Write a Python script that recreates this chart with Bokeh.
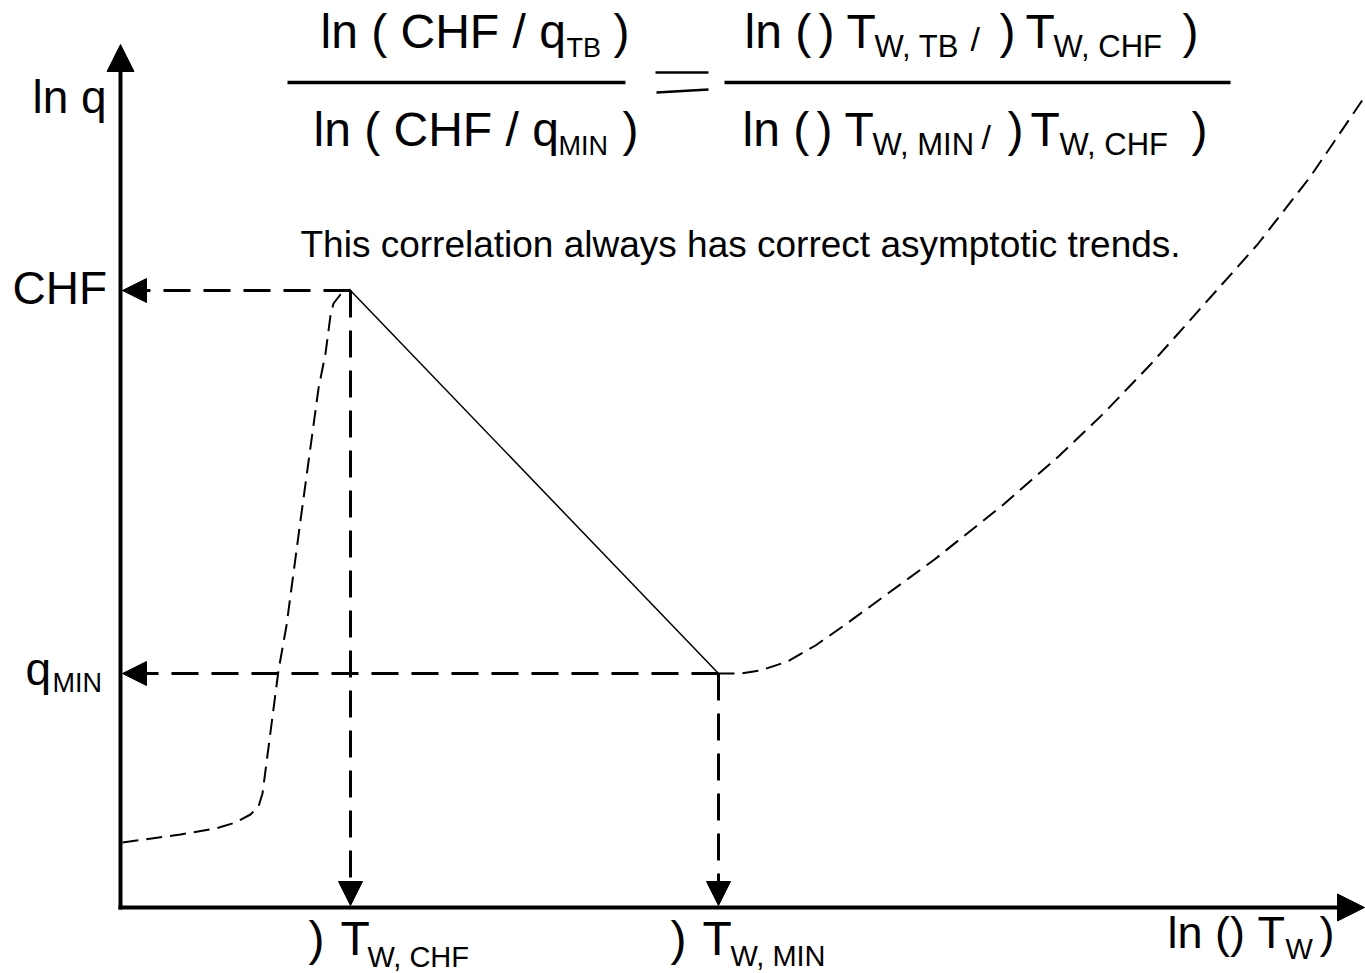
from bokeh.plotting import figure
from bokeh.models import Range1d, Arrow, NormalHead, ColumnDataSource
from bokeh.core.properties import value
from bokeh.embed import file_html
from bokeh.resources import INLINE

# ---------------------------------------------------------------------------
# Schematic boiling curve: x = ln(dT_w), y = ln(q), arbitrary units
# ---------------------------------------------------------------------------
T_W_CHF = 2.30      # wall superheat at critical heat flux
T_W_MIN = 5.98      # wall superheat at minimum film boiling point
CHF = 6.17          # critical heat flux level
Q_MIN = 2.34        # minimum film boiling heat flux level

# nucleate boiling branch (dashed, up to CHF)
nucleate_x = [0.02, 0.60, 0.95, 1.15, 1.30, 1.38, 1.42, 1.58, 1.66, 1.80,
              1.98, 2.05, 2.10, 2.13, 2.20, 2.30]
nucleate_y = [0.65, 0.73, 0.79, 0.85, 0.93, 1.01, 1.14, 2.37, 2.82, 3.87,
              5.19, 5.54, 5.92, 6.04, 6.13, 6.18]

# film boiling branch (dashed, from the minimum point onwards)
film_x = [5.98, 6.20, 6.40, 6.67, 6.95, 7.25, 7.66, 8.14, 8.83, 9.39,
          9.83, 10.30, 10.80, 11.37, 11.90, 12.43]
film_y = [2.34, 2.34, 2.37, 2.46, 2.62, 2.83, 3.13, 3.48, 4.03, 4.52,
          4.94, 5.43, 5.99, 6.63, 7.31, 8.09]

FONT = "Liberation Sans"
W, H = 1365, 973
PX = 100.0            # screen pixels per unit
X0, Y0 = 120, 907     # screen position of the axes origin
BASELINE_FIX = 0.39   # em shift so that dy addresses the alphabetic baseline


def ux(px):
    return (px - X0) / PX


def uy(py):
    return (Y0 - py) / PX


p = figure(width=W, height=H,
           x_range=Range1d(ux(0), ux(W)), y_range=Range1d(uy(H), uy(0)),
           toolbar_location=None, output_backend="svg", min_border=0)
p.xaxis.visible = False
p.yaxis.visible = False
p.xgrid.visible = False
p.ygrid.visible = False
p.outline_line_color = None
p.background_fill_color = "white"
p.border_fill_color = "white"


# --- axes drawn as arrows -------------------------------------------------
def head(size):
    return NormalHead(size=size, fill_color="black", line_color="black", line_width=1)


p.add_layout(Arrow(end=head(27), x_start=0, y_start=-0.02, x_end=0, y_end=uy(44),
                   line_color="black", line_width=4))
p.add_layout(Arrow(end=head(27), x_start=-0.02, y_start=0, x_end=ux(1364), y_end=0,
                   line_color="black", line_width=4))

# --- dashed guide arrows from CHF and the minimum point -------------------
guide = dict(line_color="black", line_width=3, line_dash="27 13")
tip = 0.02
p.add_layout(Arrow(end=head(24), x_start=T_W_CHF, y_start=CHF, x_end=tip, y_end=CHF, **guide))
p.add_layout(Arrow(end=head(24), x_start=T_W_CHF, y_start=CHF, x_end=T_W_CHF, y_end=tip, **guide))
p.add_layout(Arrow(end=head(24), x_start=T_W_MIN, y_start=Q_MIN, x_end=tip, y_end=Q_MIN, **guide))
p.add_layout(Arrow(end=head(24), x_start=T_W_MIN, y_start=Q_MIN, x_end=T_W_MIN, y_end=tip, **guide))

# --- curves -----------------------------------------------------------------
p.line([T_W_CHF, T_W_MIN], [CHF, Q_MIN], line_color="black", line_width=1.5)
p.line(nucleate_x, nucleate_y, line_color="black", line_width=2, line_dash="16 8")
p.line(film_x, film_y, line_color="black", line_width=2, line_dash="16 8")

# --- correlation formula: fraction bars and equals sign ---------------------
p.segment(x0=[ux(287), ux(724)], y0=[uy(82), uy(82)],
          x1=[ux(625), ux(1230)], y1=[uy(82), uy(82)],
          line_color="black", line_width=3.5)
p.segment(x0=[ux(655), ux(656)], y0=[uy(72), uy(92)],
          x1=[ux(708), ux(708)], y1=[uy(72), uy(89)],
          line_color="black", line_width=2.5)

# --- text runs (main text + subscripts) ------------------------------------
runs = dict(x=[], y=[], text=[], size=[], dx=[], dy=[])


def put(x, y, pieces):
    for txt, size, dx, dy in pieces:
        runs["x"].append(x)
        runs["y"].append(y)
        runs["text"].append(txt)
        runs["size"].append(f"{size}px")
        runs["dx"].append(dx)
        runs["dy"].append(dy - BASELINE_FIX * size)


left, top = ux(0), uy(0)

# formula, positioned from the top-left corner of the canvas
put(left, top, [("ln ( CHF / q", 48, 320, 50), ("TB", 27, 566, 58), (")", 48, 613, 50)])
put(left, top, [("ln ( CHF / q", 48, 313, 148), ("MIN", 27, 558, 156), (")", 48, 622, 148)])
put(left, top, [("ln (", 48, 744, 50), (")", 48, 818, 50), ("T", 48, 846, 50),
                ("W, TB", 31, 874, 58), ("/", 34, 970, 52), (")", 48, 999, 50),
                ("T", 48, 1025, 50), ("W, CHF", 31, 1053, 58), (")", 48, 1182, 50)])
put(left, top, [("ln (", 48, 742, 148), (")", 48, 816, 148), ("T", 48, 844, 148),
                ("W, MIN", 31, 872, 156), ("/", 34, 981, 150), (")", 48, 1007, 148),
                ("T", 48, 1030, 148), ("W, CHF", 31, 1059, 156), (")", 48, 1191, 148)])
put(left, top, [("This correlation always has correct asymptotic trends.", 37, 300, 258)])

# axis titles
put(left, top, [("ln q", 46, 32, 114)])
put(left, top, [("ln ()", 45, 1167, 950), ("T", 45, 1257, 950), ("W", 29, 1285, 960),
                (")", 45, 1319, 950)])

# level labels on the y axis
put(left, CHF, [("CHF", 46, 12, 15)])
put(left, Q_MIN, [("q", 46, 25, 13), ("MIN", 27, 52, 20)])

# superheat labels on the x axis
put(T_W_CHF, 0, [(")", 48, -42, 50), ("T", 48, -10, 50), ("W, CHF", 29, 17, 61)])
put(T_W_MIN, 0, [(")", 48, -48, 50), ("T", 48, -16, 50), ("W, MIN", 29, 12, 60)])

src = ColumnDataSource(runs)
p.text(x="x", y="y", text="text", source=src, x_offset="dx", y_offset="dy",
       text_font=value(FONT), text_font_size="size", text_color="black",
       text_align="left", text_baseline="alphabetic")

open("out.html", "w").write(file_html(p, INLINE))
